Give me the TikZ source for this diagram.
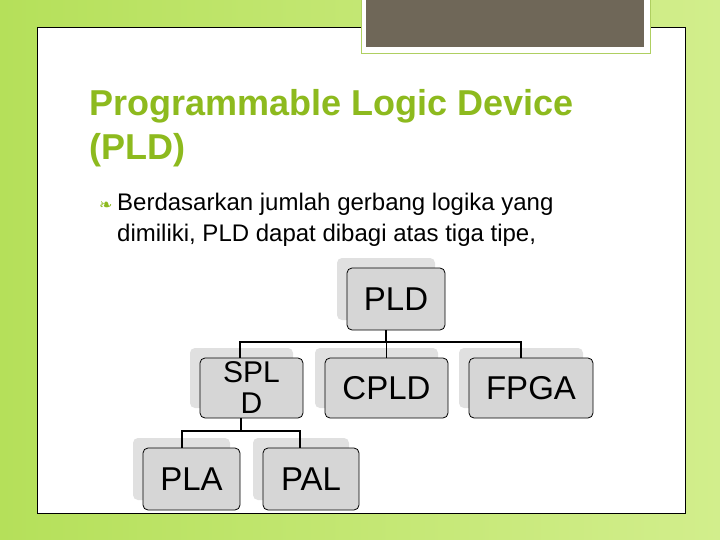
\documentclass[tikz,border=0pt]{standalone}
\usepackage{fontspec}
\setmainfont{Liberation Sans}
\newfontfamily\dejavu{DejaVu Sans}
\definecolor{titlegreen}{HTML}{8DBA1E}
\definecolor{bgA}{HTML}{B5E05A}
\definecolor{bgB}{HTML}{D2EE8C}
\definecolor{brownbox}{HTML}{6F6758}
\definecolor{boxgray}{HTML}{D6D6D6}
\begin{document}
\begin{tikzpicture}[x=1pt,y=-1pt,
  box/.style={draw=black,line width=0.8pt,fill=boxgray,rounded corners=5pt,
    inner sep=0pt,font=\fontsize{33}{33}\selectfont,align=center},
  shadowbox/.style={fill=black!12,rounded corners=5pt},
  conn/.style={line width=1.6pt}]
\useasboundingbox (0,0) rectangle (720,540);
\shade[left color=bgA,right color=bgB] (0,0) rectangle (720,540);
\fill[white] (37,27) rectangle (685,513);
\draw[line width=0.8pt] (37,27) rectangle (685,513);
\fill[white] (361,-2) rectangle (650,54);
\fill[brownbox] (366,-2) rectangle (644,47);
\draw[titlegreen!70,line width=1pt] (361,-2) rectangle (650,54);
\node[anchor=base west,text=titlegreen,font=\fontsize{36}{36}\selectfont\bfseries,inner sep=0pt] (t1) at (89,116) {Programmable Logic Device};
\node[anchor=base west,text=titlegreen,font=\fontsize{36}{36}\selectfont\bfseries,inner sep=0pt] (t2) at (89,160) {(PLD)};
\node[anchor=base west,text=titlegreen,font=\dejavu\fontsize{16}{16}\selectfont,inner sep=0pt] (bul) at (99,211) {❧};
\node[anchor=base west,font=\fontsize{24}{24}\selectfont,inner sep=0pt] (b1) at (117,211) {Berdasarkan jumlah gerbang logika yang};
\node[anchor=base west,font=\fontsize{24}{24}\selectfont,inner sep=0pt] (b2) at (117,241) {dimiliki, PLD dapat dibagi atas tiga tipe,};
% shadows
\fill[shadowbox] (337,258) rectangle (435,320);
\fill[shadowbox] (190,348) rectangle (293,408);
\fill[shadowbox] (315,348) rectangle (438,408);
\fill[shadowbox] (459,348) rectangle (583,408);
\fill[shadowbox] (133,438) rectangle (230,500);
\fill[shadowbox] (253,438) rectangle (349,500);
% connectors
\coordinate (j1) at (386,342);
\coordinate (j2) at (241,431);
\node[box,minimum width=98pt,minimum height=62pt] (pld) at (396,299) {PLD};
\node[box,minimum width=103pt,minimum height=60pt,font=\fontsize{30}{31}\selectfont] (spld) at (251.5,388) {SPL\\D};
\node[box,minimum width=123pt,minimum height=60pt] (cpld) at (386.5,388) {CPLD};
\node[box,minimum width=124pt,minimum height=60pt] (fpga) at (531,388) {FPGA};
\node[box,minimum width=97pt,minimum height=62pt] (pla) at (191.5,479) {PLA};
\node[box,minimum width=96pt,minimum height=62pt] (pal) at (311,479) {PAL};
\draw[conn] (pld.south -| j1) -- (j1);
\draw[conn] (spld.north -| 240,0) |- (j1) -| (cpld.north);
\draw[conn] (j1) -| (fpga.north -| 521,0);
\draw[conn] (spld.south -| j2) -- (j2);
\draw[conn] (pla.north -| 182,0) |- (j2) -| (pal.north -| 300,0);
\end{tikzpicture}
\end{document}
